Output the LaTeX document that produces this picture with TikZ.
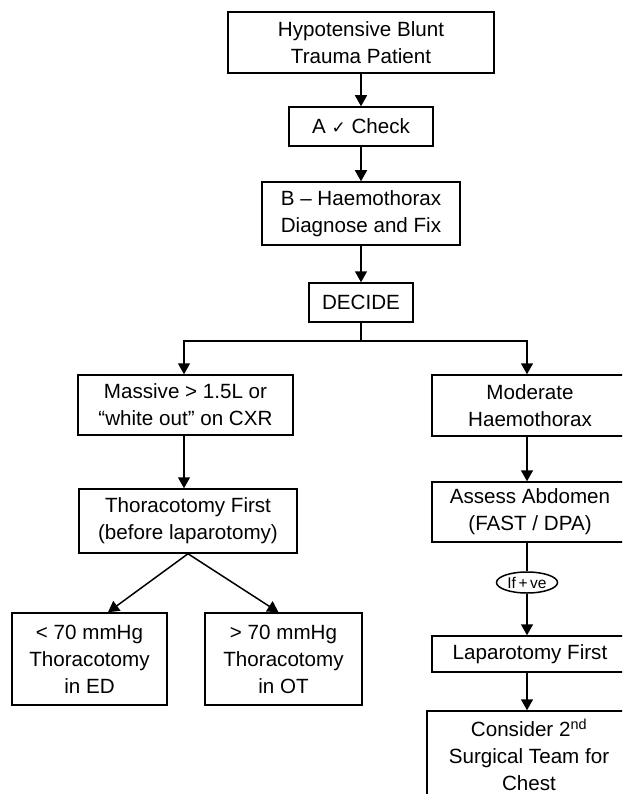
\documentclass[tikz,border=0pt]{standalone}
\usepackage{fontspec}
\setmainfont{Liberation Sans}
\newfontfamily\symfont{DejaVu Sans}
\usetikzlibrary{arrows.meta,shapes.geometric,calc}
\tikzset{
  box/.style={draw, line width=1.5pt, align=center, inner sep=0pt,
    font=\fontsize{20.6}{27}\selectfont},
  arr/.style={line width=1.5pt, -{Triangle[width=12pt,length=11pt]}},
  ln/.style={line width=1.5pt},
}
\begin{document}
\begin{tikzpicture}[x=1pt,y=-1pt]
\useasboundingbox (0,0) rectangle (622,794);
\clip (0,0) rectangle (622,794);
\node[box, minimum width=266pt, minimum height=61pt] (b1) at (361,42.5) {Hypotensive Blunt\\Trauma Patient};
\node[box, minimum width=144pt, minimum height=39pt] (ba) at (361,126.5) {A {\symfont\fontsize{17}{17}\selectfont ✓} Check};
\node[box, minimum width=198pt, minimum height=63pt] (bb) at (361,213.5) {B -- Haemothorax\\Diagnose and Fix};
\node[box, minimum width=104pt, minimum height=39pt] (dec) at (361,302.5) {DECIDE};
\node[box, minimum width=215pt, minimum height=60pt] (mass) at (185.5,405) {Massive > 1.5L or\\“white out” on CXR};
\node[box, minimum width=196pt, minimum height=61pt] (mod) at (530,405.5) {Moderate\\Haemothorax};
\node[box, minimum width=218pt, minimum height=64pt] (thor) at (188,521) {Thoracotomy First\\(before laparotomy)};
\node[box, minimum width=196pt, minimum height=60pt] (ass) at (530,512) {Assess Abdomen\\(FAST / DPA)};
\node[draw, ellipse, line width=1.5pt, inner sep=0pt, minimum width=61pt, minimum height=21pt,
  font=\fontsize{15.5}{15.5}\selectfont] (ifve) at (527,582.5) {If\,+\,ve};
\node[box, minimum width=155pt, minimum height=92pt] (lol) at (89.5,659) {< 70 mmHg\\Thoracotomy\\in ED};
\node[box, minimum width=157pt, minimum height=92pt] (lor) at (283.5,659) {> 70 mmHg\\Thoracotomy\\in OT};
\node[box, minimum width=196pt, minimum height=36pt] (lap) at (530,654) {Laparotomy First};
\node[box, minimum width=204pt, minimum height=88pt] (cons) at (529,755) {Consider 2\textsuperscript{nd}\\Surgical Team for\\Chest};
\coordinate (cx) at (527,0);
\coordinate (lx) at (184,0);
\draw[arr] (b1.south) -- (ba.north);
\draw[arr] (ba.south) -- (bb.north);
\draw[arr] (bb.south) -- (dec.north);
\coordinate (split) at ($(dec.south)+(0,18)$);
\draw[ln] (dec.south) -- (split);
\draw[arr] (split) -| (lx |- mass.north);
\draw[arr] (split) -| (cx |- mod.north);
\draw[arr] (lx |- mass.south) -- (lx |- thor.north);
\draw[arr] (thor.south) -- ($(lol.north)+(18.5,0)$);
\draw[arr] (thor.south) -- ($(lor.north)+(-5,0)$);
\draw[arr] (cx |- mod.south) -- (cx |- ass.north);
\draw[ln] (cx |- ass.south) -- (ifve.north);
\draw[arr] (ifve.south) -- (cx |- lap.north);
\draw[arr] (cx |- lap.south) -- (cx |- cons.north);
\end{tikzpicture}
\end{document}
